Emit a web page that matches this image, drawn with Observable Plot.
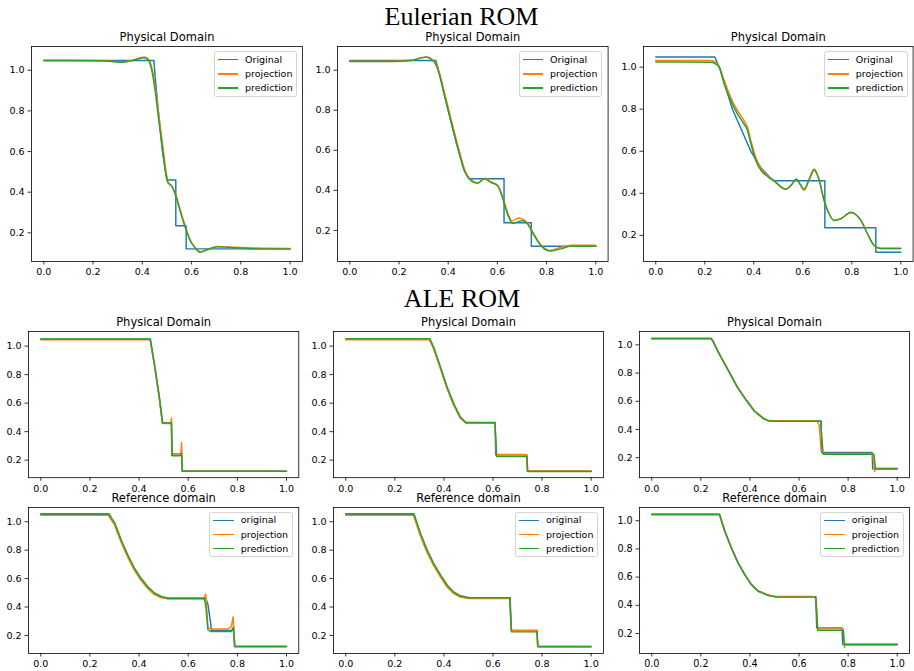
<!DOCTYPE html>
<html><head><meta charset="utf-8">
<script src="https://cdn.jsdelivr.net/npm/d3@7"></script>
<script src="https://cdn.jsdelivr.net/npm/@observablehq/plot@0.6"></script>
<style>
body{margin:0;background:#fff;}
#fig{position:relative;width:914px;height:671px;overflow:hidden;background:#fff;font-family:"DejaVu Sans",sans-serif;}
#fig svg.plot-panel{position:absolute;}
.legend{position:absolute;border:1px solid #d4d4d4;border-radius:2.5px;background:rgba(255,255,255,0.8);box-sizing:border-box;}
.legend .sw{position:absolute;height:1.5px;}
.legend .lb{position:absolute;font-size:9.5px;line-height:14px;white-space:nowrap;color:#000;}
#sup{position:absolute;left:0;top:0;pointer-events:none;}
</style></head>
<body><div id="fig"></div>
<script>
// ---------- text / ticks ----------
const figureTitles = ["Eulerian ROM", "ALE ROM"];
const physicalTitle = "Physical Domain";
const referenceTitle = "Reference domain";
const legendUpper = ["Original", "projection", "prediction"];
const legendLower = ["original", "projection", "prediction"];
const seriesColors = ["#1f77b4", "#ff7f0e", "#2ca02c"];
const xTicks = [0, 0.2, 0.4, 0.6, 0.8, 1.0];
const yTicks = [0.2, 0.4, 0.6, 0.8, 1.0];

// ---------- Eulerian ROM, physical domain ----------
const eul1Original = [[0,1.048],[0.447,1.048],[0.452,0.97],[0.465,0.80],[0.482,0.60],[0.5,0.46],[0.536,0.46],[0.536,0.235],[0.578,0.235],[0.578,0.121],[1,0.121]];
const eul1Projection = [[0,1.048],[0.1,1.048],[0.2,1.048],[0.25,1.047],[0.31,1.041],[0.36,1.05],[0.41,1.066],[0.428,1.05],[0.443,0.99],[0.455,0.9],[0.468,0.77],[0.482,0.64],[0.496,0.507],[0.505,0.45],[0.522,0.428],[0.535,0.39],[0.555,0.31],[0.576,0.228],[0.596,0.162],[0.616,0.126],[0.637,0.106],[0.665,0.118],[0.705,0.133],[0.77,0.129],[0.85,0.126],[0.905,0.124],[1,0.123]];
const eul1Prediction = [[0,1.048],[0.1,1.048],[0.2,1.047],[0.25,1.046],[0.31,1.039],[0.36,1.048],[0.405,1.062],[0.425,1.05],[0.44,0.99],[0.452,0.9],[0.465,0.77],[0.479,0.64],[0.493,0.507],[0.503,0.449],[0.52,0.428],[0.533,0.392],[0.553,0.31],[0.574,0.228],[0.594,0.162],[0.614,0.126],[0.635,0.105],[0.662,0.116],[0.702,0.131],[0.77,0.127],[0.85,0.122],[0.905,0.121],[1,0.121]];

const eul2Original = [[0,1.048],[0.35,1.048],[0.365,0.98],[0.40,0.80],[0.435,0.63],[0.465,0.5],[0.485,0.458],[0.627,0.458],[0.627,0.238],[0.738,0.238],[0.738,0.121],[1,0.121]];
const eul2Projection = [[0,1.045],[0.1,1.045],[0.167,1.045],[0.248,1.049],[0.31,1.066],[0.345,1.042],[0.365,0.985],[0.386,0.882],[0.413,0.749],[0.441,0.616],[0.468,0.5],[0.488,0.456],[0.521,0.437],[0.548,0.46],[0.575,0.442],[0.602,0.424],[0.622,0.366],[0.643,0.283],[0.66,0.248],[0.69,0.262],[0.71,0.25],[0.725,0.232],[0.752,0.175],[0.779,0.125],[0.815,0.1],[0.856,0.115],[0.898,0.126],[1,0.126]];
const eul2Prediction = [[0,1.043],[0.1,1.043],[0.167,1.043],[0.248,1.048],[0.309,1.065],[0.343,1.04],[0.363,0.982],[0.383,0.882],[0.41,0.749],[0.438,0.616],[0.465,0.5],[0.485,0.458],[0.519,0.436],[0.546,0.458],[0.573,0.44],[0.6,0.424],[0.62,0.366],[0.641,0.283],[0.661,0.236],[0.68,0.241],[0.702,0.25],[0.722,0.233],[0.749,0.175],[0.776,0.125],[0.817,0.097],[0.858,0.108],[0.898,0.121],[1,0.121]];

const eul3Original = [[0,1.048],[0.241,1.048],[0.259,1.0],[0.313,0.8],[0.388,0.6],[0.43,0.52],[0.48,0.46],[0.69,0.46],[0.69,0.236],[0.898,0.236],[0.898,0.12],[1,0.12]];
const eul3Projection = [[0,1.032],[0.1,1.032],[0.224,1.031],[0.252,1.016],[0.279,0.937],[0.306,0.857],[0.333,0.794],[0.36,0.746],[0.374,0.715],[0.388,0.651],[0.408,0.572],[0.429,0.517],[0.456,0.485],[0.483,0.461],[0.53,0.42],[0.555,0.44],[0.574,0.466],[0.59,0.44],[0.605,0.414],[0.625,0.46],[0.646,0.509],[0.665,0.47],[0.687,0.366],[0.707,0.303],[0.728,0.271],[0.755,0.279],[0.796,0.307],[0.837,0.271],[0.864,0.208],[0.891,0.152],[0.918,0.136],[1,0.136]];
const eul3Prediction = [[0,1.024],[0.1,1.024],[0.224,1.023],[0.259,1.0],[0.279,0.921],[0.306,0.842],[0.333,0.778],[0.36,0.73],[0.374,0.7],[0.388,0.636],[0.408,0.556],[0.429,0.509],[0.456,0.48],[0.483,0.458],[0.53,0.42],[0.555,0.443],[0.574,0.468],[0.59,0.442],[0.605,0.42],[0.625,0.465],[0.646,0.514],[0.665,0.47],[0.687,0.366],[0.707,0.303],[0.728,0.271],[0.755,0.279],[0.796,0.31],[0.837,0.271],[0.864,0.208],[0.891,0.152],[0.918,0.139],[1,0.139]];

// ---------- ALE ROM, physical domain ----------
const ale1Original = [[0,1.049],[0.445,1.049],[0.464,0.85],[0.482,0.64],[0.495,0.46],[0.532,0.46],[0.533,0.235],[0.574,0.235],[0.575,0.123],[1,0.123]];
const ale1Projection = [[0,1.045],[0.445,1.045],[0.464,0.85],[0.482,0.64],[0.495,0.457],[0.529,0.457],[0.532,0.495],[0.535,0.245],[0.57,0.245],[0.573,0.324],[0.576,0.122],[1,0.122]];
const ale1Prediction = [[0,1.05],[0.446,1.05],[0.465,0.85],[0.483,0.64],[0.496,0.46],[0.531,0.46],[0.535,0.23],[0.565,0.23],[0.572,0.25],[0.577,0.122],[1,0.122]];

const ale2Original = [[0,1.049],[0.341,1.049],[0.357,0.99],[0.385,0.85],[0.412,0.71],[0.439,0.593],[0.466,0.5],[0.489,0.464],[0.609,0.464],[0.611,0.237],[0.738,0.237],[0.74,0.122],[1,0.122]];
const ale2Projection = [[0,1.045],[0.341,1.045],[0.357,0.986],[0.385,0.846],[0.412,0.706],[0.439,0.589],[0.466,0.496],[0.489,0.46],[0.608,0.46],[0.614,0.24],[0.736,0.24],[0.741,0.124],[1,0.124]];
const ale2Prediction = [[0,1.052],[0.343,1.052],[0.359,0.99],[0.387,0.85],[0.414,0.71],[0.441,0.593],[0.468,0.5],[0.491,0.462],[0.608,0.462],[0.615,0.225],[0.738,0.225],[0.742,0.12],[1,0.12]];

const ale3Original = [[0,1.045],[0.242,1.045],[0.25,1.025],[0.265,0.97],[0.283,0.91],[0.31,0.825],[0.35,0.697],[0.38,0.62],[0.418,0.531],[0.44,0.5],[0.455,0.478],[0.473,0.464],[0.49,0.46],[0.69,0.46],[0.692,0.237],[0.898,0.237],[0.9,0.122],[1,0.122]];
const ale3Projection = [[0,1.047],[0.242,1.047],[0.25,1.027],[0.265,0.972],[0.283,0.912],[0.31,0.827],[0.35,0.699],[0.38,0.622],[0.418,0.533],[0.44,0.502],[0.455,0.48],[0.473,0.466],[0.49,0.462],[0.672,0.462],[0.682,0.43],[0.69,0.25],[0.7,0.23],[0.9,0.23],[0.908,0.1],[0.91,0.125],[1,0.125]];
const ale3Prediction = [[0,1.043],[0.242,1.043],[0.25,1.023],[0.265,0.968],[0.283,0.908],[0.31,0.823],[0.35,0.695],[0.38,0.618],[0.418,0.529],[0.44,0.498],[0.455,0.476],[0.473,0.462],[0.49,0.458],[0.688,0.458],[0.698,0.224],[0.905,0.224],[0.912,0.12],[1,0.12]];

// ---------- ALE ROM, reference domain ----------
const ale4Original = [[0,1.052],[0.275,1.052],[0.3,0.984],[0.326,0.866],[0.353,0.76],[0.38,0.667],[0.407,0.596],[0.434,0.538],[0.461,0.495],[0.488,0.472],[0.516,0.462],[0.671,0.462],[0.68,0.42],[0.69,0.3],[0.695,0.235],[0.78,0.235],[0.785,0.26],[0.788,0.122],[1,0.122]];
const ale4Projection = [[0,1.045],[0.275,1.045],[0.3,0.978],[0.326,0.86],[0.353,0.754],[0.38,0.661],[0.407,0.59],[0.434,0.532],[0.461,0.489],[0.488,0.466],[0.516,0.457],[0.665,0.457],[0.671,0.49],[0.675,0.4],[0.68,0.26],[0.69,0.245],[0.76,0.245],[0.775,0.26],[0.783,0.33],[0.787,0.2],[0.79,0.122],[1,0.122]];
const ale4Prediction = [[0,1.056],[0.277,1.056],[0.302,0.988],[0.328,0.87],[0.355,0.764],[0.382,0.671],[0.409,0.6],[0.436,0.542],[0.463,0.499],[0.49,0.474],[0.518,0.462],[0.665,0.462],[0.672,0.4],[0.68,0.24],[0.69,0.228],[0.775,0.228],[0.783,0.256],[0.79,0.122],[1,0.122]];

const ale5Original = [[0,1.052],[0.276,1.052],[0.303,0.913],[0.33,0.796],[0.357,0.702],[0.385,0.62],[0.412,0.549],[0.438,0.502],[0.466,0.476],[0.5,0.465],[0.67,0.465],[0.675,0.235],[0.78,0.235],[0.782,0.122],[1,0.122]];
const ale5Projection = [[0,1.045],[0.276,1.045],[0.303,0.906],[0.33,0.789],[0.357,0.695],[0.385,0.613],[0.412,0.542],[0.438,0.496],[0.466,0.47],[0.5,0.46],[0.668,0.46],[0.674,0.235],[0.779,0.235],[0.782,0.122],[1,0.122]];
const ale5Prediction = [[0,1.056],[0.278,1.056],[0.305,0.917],[0.332,0.8],[0.359,0.706],[0.387,0.624],[0.414,0.553],[0.44,0.506],[0.468,0.479],[0.502,0.465],[0.668,0.465],[0.676,0.225],[0.779,0.225],[0.784,0.12],[1,0.12]];

const ale6Original = [[0,1.047],[0.275,1.047],[0.296,0.929],[0.323,0.81],[0.35,0.704],[0.377,0.621],[0.404,0.55],[0.431,0.503],[0.472,0.472],[0.506,0.46],[0.668,0.46],[0.672,0.24],[0.775,0.24],[0.778,0.122],[1,0.122]];
const ale6Projection = [[0,1.05],[0.275,1.05],[0.296,0.932],[0.323,0.813],[0.35,0.707],[0.377,0.624],[0.404,0.553],[0.431,0.506],[0.472,0.475],[0.506,0.463],[0.66,0.463],[0.67,0.44],[0.676,0.232],[0.78,0.232],[0.785,0.1],[0.787,0.125],[1,0.125]];
const ale6Prediction = [[0,1.043],[0.277,1.043],[0.298,0.926],[0.325,0.807],[0.352,0.701],[0.379,0.618],[0.406,0.547],[0.433,0.5],[0.474,0.47],[0.508,0.458],[0.668,0.458],[0.676,0.222],[0.78,0.222],[0.785,0.12],[1,0.12]];

// ---------- layout (frame boxes in page pixels) ----------
const panels = [
  {series:[eul1Original,eul1Projection,eul1Prediction], smooth:true, title:physicalTitle, legend:legendUpper, L:31.4, R:302.3, T:46, B:261, yDomain:[0.059,1.117]},
  {series:[eul2Original,eul2Projection,eul2Prediction], smooth:true, title:physicalTitle, legend:legendUpper, L:336.7, R:607.3, T:46, B:261, yDomain:[0.045,1.118]},
  {series:[eul3Original,eul3Projection,eul3Prediction], smooth:true, title:physicalTitle, legend:legendUpper, L:643.4, R:913, T:46, B:261, yDomain:[0.076,1.098]},
  {series:[ale1Original,ale1Projection,ale1Prediction], smooth:false, title:physicalTitle, legend:null, L:27.7, R:298, T:330.7, B:476.9, yDomain:[0.077,1.1025]},
  {series:[ale2Original,ale2Projection,ale2Prediction], smooth:false, title:physicalTitle, legend:null, L:333.4, R:603.3, T:330.7, B:476.9, yDomain:[0.077,1.1025]},
  {series:[ale3Original,ale3Projection,ale3Prediction], smooth:false, title:physicalTitle, legend:null, L:639, R:909, T:330.7, B:476.9, yDomain:[0.058,1.0945]},
  {series:[ale4Original,ale4Projection,ale4Prediction], smooth:false, title:referenceTitle, legend:legendLower, L:27.7, R:298, T:506.7, B:652.7, yDomain:[0.073,1.1]},
  {series:[ale5Original,ale5Projection,ale5Prediction], smooth:false, title:referenceTitle, legend:legendLower, L:333.4, R:603.3, T:506.7, B:652.7, yDomain:[0.073,1.1]},
  {series:[ale6Original,ale6Projection,ale6Prediction], smooth:false, title:referenceTitle, legend:legendLower, L:639, R:909, T:506.7, B:652.7, yDomain:[0.058,1.094]}
];

const fig = document.getElementById("fig");
const fmt = d3.format(".1f");
const mL = 34, mR = 2, mT = 22, mB = 22;

panels.forEach(cfg => {
  const w = cfg.R - cfg.L, h = cfg.B - cfg.T;
  const lines = cfg.series.map((s, i) => Plot.line(s, {
    x: d => d[0], y: d => d[1], stroke: seriesColors[i], strokeWidth: 1.45,
    curve: (cfg.smooth && i > 0) ? "monotone-x" : "linear"
  }));
  const chart = Plot.plot({
    width: w + mL + mR, height: h + mT + mB,
    marginLeft: mL, marginRight: mR, marginTop: mT, marginBottom: mB,
    x: {domain: [-0.05, 1.05]},
    y: {domain: cfg.yDomain},
    style: {fontFamily: '"DejaVu Sans", sans-serif', fontSize: "9.6px", background: "transparent", color: "#000", overflow: "visible"},
    marks: [
      ...lines,
      Plot.frame({stroke: "#000", strokeWidth: 0.8}),
      Plot.axisX({ticks: xTicks, tickFormat: fmt, tickSize: 3.5, tickPadding: 3.5, label: null, strokeWidth: 0.8}),
      Plot.axisY({ticks: yTicks, tickFormat: fmt, tickSize: 3.5, tickPadding: 3.3, label: null, strokeWidth: 0.8}),
      Plot.text([cfg.title], {text: d => d, frameAnchor: "top", dy: -5.8, lineAnchor: "bottom", fontSize: 11.5})
    ]
  });
  chart.classList.add("plot-panel");
  chart.style.left = (cfg.L - mL) + "px";
  chart.style.top = (cfg.T - mT) + "px";
  fig.appendChild(chart);

  if (cfg.legend) {
    const lw = 83.5, lh = 45.7;
    const box = document.createElement("div");
    box.className = "legend";
    box.style.left = (cfg.R - 5.3 - lw) + "px";
    box.style.top = (cfg.T + 5) + "px";
    box.style.width = lw + "px";
    box.style.height = lh + "px";
    cfg.legend.forEach((name, i) => {
      const cy = 7.7 + i * 14.15;
      const sw = document.createElement("div");
      sw.className = "sw";
      sw.style.left = "3px"; sw.style.width = "20.7px";
      sw.style.top = (cy - 0.75) + "px";
      sw.style.background = seriesColors[i];
      box.appendChild(sw);
      const lb = document.createElement("div");
      lb.className = "lb";
      lb.style.left = "30.5px";
      lb.style.top = (cy - 7) + "px";
      lb.textContent = name;
      box.appendChild(lb);
    });
    fig.appendChild(box);
  }
});

// figure titles
const ns = "http://www.w3.org/2000/svg";
const sup = document.createElementNS(ns, "svg");
sup.setAttribute("id", "sup");
sup.setAttribute("width", 914); sup.setAttribute("height", 671);
[[figureTitles[0], 461.5, 25], [figureTitles[1], 462, 307]].forEach(([t, x, y]) => {
  const el = document.createElementNS(ns, "text");
  el.setAttribute("x", x); el.setAttribute("y", y);
  el.setAttribute("text-anchor", "middle");
  el.setAttribute("font-family", '"Liberation Serif", "DejaVu Serif", serif');
  el.setAttribute("font-size", "26");
  el.setAttribute("fill", "#000");
  el.textContent = t;
  sup.appendChild(el);
});
fig.appendChild(sup);
</script>
</body></html>
